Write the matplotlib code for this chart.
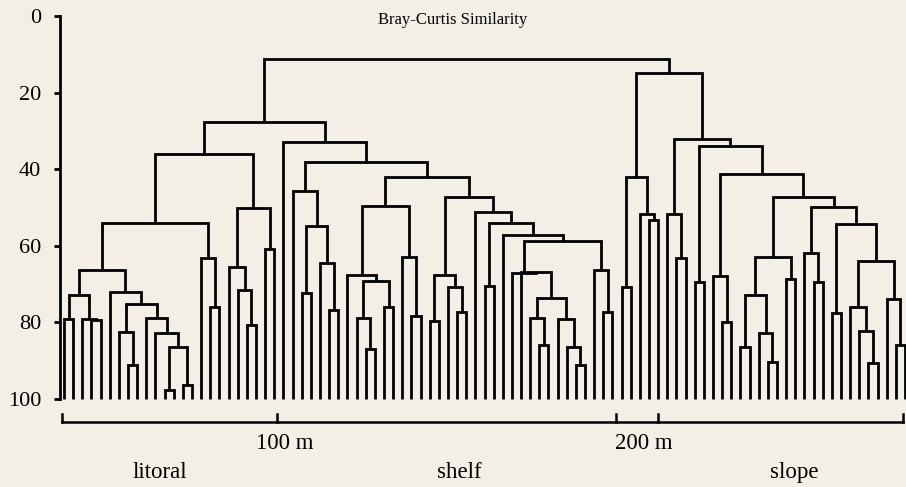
import matplotlib
matplotlib.use("Agg")
from matplotlib import pyplot as plt

plt.rcParams['font.family'] = ['Liberation Serif', 'DejaVu Serif']

# dendrogram: node = (similarity, left, right), leaf = station number 1..93
litoral_a = (66.3,
             (72.8, (79.0, 1, 2), (79.0, 3, (79.3, 4, 5))),
             (72.1, 6, (75.2, (82.6, 7, (91.1, 8, 9)),
                        (78.9, 10, (82.8, 11, (86.5, (97.7, 12, 13), (96.3, 14, 15)))))))
litoral_b = (63.3, 16, (76.1, 17, 18))
litoral_c = (50.2, (65.5, 19, (71.5, 20, (80.7, 21, 22))), (60.9, 23, 24))
litoral = (36.0, (54.1, litoral_a, litoral_b), litoral_c)

shelf_a = (45.8, 26, (54.8, (72.2, 27, 28), (64.6, 29, (76.8, 30, 31))))
shelf_b = (49.6, (67.6, 32, (69.1, (78.9, 33, (87.0, 34, 35)), (76.1, 36, 37))),
           (63.0, 38, (78.3, 39, 40)))
shelf_c = (67.6, (79.6, 41, 42), (70.7, 43, (77.4, 44, 45)))
shelf_s = (73.7, (78.9, 52, (85.9, 53, 54)), (79.1, 55, (86.5, 56, (91.1, 57, 58))))
shelf_d = (51.1, 46, (54.1, (70.5, 47, 48),
                      (57.2, 49, (58.7, (67.0, 50, (66.8, 51, shelf_s)),
                                  (66.3, 59, (77.4, 60, 61))))))
shelf = (32.9, 25, (38.1, shelf_a, (42.1, shelf_b, (47.3, shelf_c, shelf_d))))

slope_a = (42.0, (70.8, 62, 63), (51.8, 64, (53.3, 65, 66)))
slope_b = (51.8, 67, (63.1, 68, 69))
slope_c = (67.9, 72, (79.8, 73, 74))
slope_d = (62.9, (72.8, (86.5, 75, 76), (82.8, 77, (90.4, 78, 79))), (68.7, 80, 81))
slope_e = (61.8, 82, (69.4, 83, 84))
slope_f = (54.3, (77.5, 85, 86),
           (64.0, (76.1, 87, (82.2, 88, (90.5, 89, 90))), (73.9, 91, (85.9, 92, 93))))
slope = (15.0, slope_a,
         (32.1, slope_b, (33.9, (69.4, 70, 71),
                          (41.3, slope_c, (47.3, slope_d, (49.8, slope_e, slope_f))))))

tree = (11.3, (27.7, litoral, shelf), slope)
leaf_level = 100.0

y_ticks = [0, 20, 40, 60, 80, 100]
title = 'Bray-Curtis Similarity'

# depth scale under the stations (in station units)
depth_ticks = [24.3, 61.4, 66.0]
depth_labels = ['100 m', '200 m']
depth_label_pos = [25.1, 64.45]
zones = ['litoral', 'shelf', 'slope']
zone_pos = [11.5, 44.2, 80.9]

bg = '#f3eee6'
lw = 2.0

fig = plt.figure(figsize=(9.06, 4.87), dpi=100, facecolor=bg)
ax = fig.add_axes([60 / 906, 85 / 487, 846 / 906, 390 / 487])
ax.set_facecolor(bg)


def draw(node):
    if isinstance(node, int):
        return node, leaf_level
    h, left, right = node
    xl, hl = draw(left)
    xr, hr = draw(right)
    ax.plot([xl, xl, xr, xr], [hl, h, h, hr], color='black', lw=lw,
            solid_joinstyle='miter', solid_capstyle='butt')
    return (xl + xr) / 2, h


draw(tree)

ax.set_xlim(1 - 4 / 9.141, 93 + 1 / 9.141)
ax.set_ylim(100.78, -1.04)
for s in ['top', 'right', 'bottom']:
    ax.spines[s].set_visible(False)
ax.spines['left'].set_bounds(0, 100)
ax.spines['left'].set_linewidth(2.0)
ax.set_xticks([])
ax.set_yticks(y_ticks)
ax.tick_params(axis='y', direction='out', length=4.5, width=2.0, pad=9, labelsize=16)

ax.text(43.56, 1.0, title, ha='center', va='center', fontsize=12)

# depth axis
base = 106.0
ax.plot([0.78, 92.79], [base, base], color='black', lw=1.8, clip_on=False)
for x in [0.78, 92.79] + depth_ticks:
    ax.plot([x, x], [base, base - 2.0], color='black', lw=1.8, clip_on=False)
for lab, x in zip(depth_labels, depth_label_pos):
    ax.text(x, 111.7, lab, ha='center', va='center', fontsize=16.5, clip_on=False)
for lab, x in zip(zones, zone_pos):
    ax.text(x, 119.3, lab, ha='center', va='center', fontsize=16.5, clip_on=False)

fig.savefig('out.png', dpi=100, facecolor=bg)
